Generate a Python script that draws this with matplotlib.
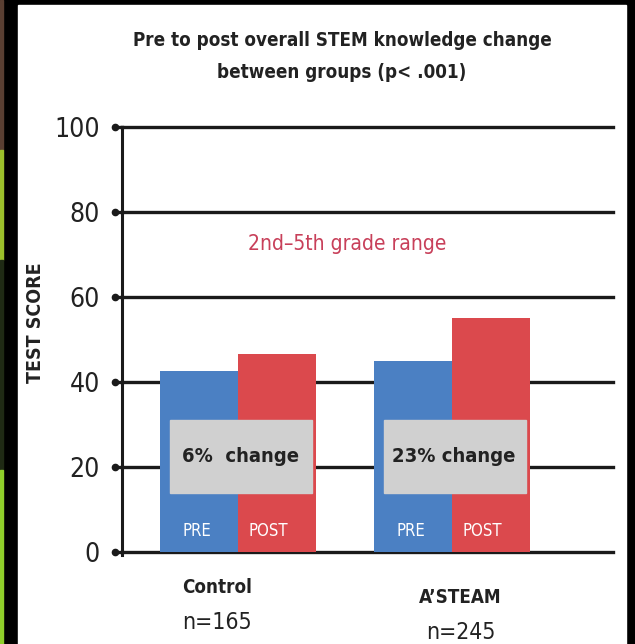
"""Pre/post STEM knowledge bar chart, Control vs A'STEAM."""

import matplotlib

matplotlib.use("Agg")
import matplotlib.pyplot as plt
from matplotlib import font_manager
from matplotlib.patches import Rectangle

groups = ["Control", "A\u2019STEAM"]
group_n = ["n=165", "n=245"]
pre_scores = [42.5, 45.0]
post_scores = [46.5, 55.0]
change_labels = ["6%  change", "23% change"]
yticks = [0, 20, 40, 60, 80, 100]

BLUE = "#4b80c3"
RED = "#db494d"
GRAY = "#d0d0d0"
PINK = "#c8405a"
INK = "#222222"

installed = {f.name for f in font_manager.fontManager.ttflist}
if "Liberation Sans Narrow" in installed:
    FONT = dict(family=["Liberation Sans Narrow", "DejaVu Sans"])
else:
    FONT = dict(family=["DejaVu Sans"], stretch="condensed")

fig = plt.figure(figsize=(6.35, 6.44), dpi=100, facecolor="black")
# white panel inside the black frame
fig.patches.append(Rectangle((18 / 635, 0), (626 - 18) / 635, (644 - 5) / 644,
                             transform=fig.transFigure, color="white", zorder=-10))
# thin coloured strip on the far left
for y0, y1, c in [(0, 150, "#5a3f32"), (150, 260, "#9bbf2a"), (260, 470, "#1f2a14"),
                  (470, 644, "#8fcf2a")]:
    fig.patches.append(Rectangle((0, 1 - y1 / 644), 3 / 635, (y1 - y0) / 644,
                                 transform=fig.transFigure, color=c, zorder=-10))

ax = fig.add_axes([122 / 635, (644 - 552) / 644, (613 - 122) / 635, (552 - 127) / 644])
ax.set_facecolor("none")
ax.set_xlim(-0.542, 1.752)
ax.set_ylim(0, 100)

# gridlines (behind the bars)
for v in yticks:
    ax.axhline(v, color="#1a1a1a", lw=2.4, zorder=1, clip_on=False)
    ax.plot(-0.014, v, marker="o", ms=4.5, color="#1a1a1a",
            transform=ax.get_yaxis_transform(), clip_on=False, zorder=3)
    ax.plot([-0.014, 0], [v, v], color="#1a1a1a", lw=2.4,
            transform=ax.get_yaxis_transform(), clip_on=False, zorder=3)

width = 0.365
xs = list(range(len(groups)))
ax.bar([x - width / 2 for x in xs], pre_scores, width=width, color=BLUE, zorder=2)
ax.bar([x + width / 2 for x in xs], post_scores, width=width, color=RED, zorder=2)

for x, lab in zip(xs, change_labels):
    ax.add_patch(Rectangle((x - 0.32, 14), 0.665, 17, color=GRAY, zorder=3))
    ax.text(x + 0.01, 22.5, lab, ha="center", va="center", fontsize=14.5,
            fontweight="bold", color=INK, zorder=4, **FONT)
    ax.text(x - width / 2 - 0.01, 5, "PRE", ha="center", va="center", fontsize=12,
            color="white", zorder=4, **FONT)
    ax.text(x + width / 2 - 0.04, 5, "POST", ha="center", va="center", fontsize=12,
            color="white", zorder=4, **FONT)

ax.text(0.51, 72.5, "2nd\u20135th grade range", ha="center", va="center", fontsize=15,
        color=PINK, **FONT)

# left axis line
ax.plot([0, 0], [-0.8, 100], color="#1a1a1a", lw=2.2, transform=ax.get_yaxis_transform(),
        clip_on=False, zorder=3)
for s in ax.spines.values():
    s.set_visible(False)
ax.set_xticks([])
ax.set_yticks(yticks)
ax.tick_params(axis="y", length=0, pad=16)
for lab in ax.get_yticklabels():
    lab.set_fontsize(19)
    lab.set_family(FONT["family"])
    if "stretch" in FONT:
        lab.set_stretch(FONT["stretch"])
    lab.set_color(INK)

ax.set_ylabel("TEST SCORE", fontsize=14, fontweight="bold", color=INK, **FONT)
ax.yaxis.set_label_coords(-0.157, 0.54)

# category labels under the bars
name_pos = [(-0.10, -8.3, -16.5), (1.04, -10.6, -18.9)]
for (x, y_name, y_n), name, n in zip(name_pos, groups, group_n):
    ax.text(x, y_name, name, ha="center", va="center", fontsize=13.5, fontweight="bold",
            color=INK, clip_on=False, **FONT)
    ax.text(x, y_n, n, ha="center", va="center", fontsize=16.5, color=INK,
            clip_on=False, **FONT)

fig.text(342 / 635, 1 - 40 / 644, "Pre to post overall STEM knowledge change",
         ha="center", va="center", fontsize=13.5, fontweight="bold", color=INK, **FONT)
fig.text(342 / 635, 1 - 72 / 644, "between groups (p< .001)",
         ha="center", va="center", fontsize=13.5, fontweight="bold", color=INK, **FONT)

fig.savefig("out.png", dpi=100, facecolor="black")
